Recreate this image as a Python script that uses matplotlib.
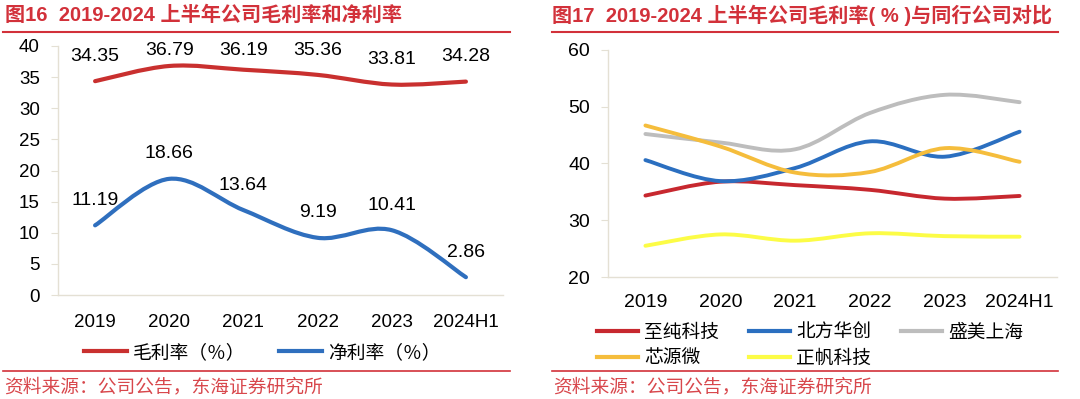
import matplotlib
matplotlib.use("Agg")
import matplotlib.pyplot as plt
from matplotlib.path import Path
from matplotlib.patches import PathPatch
from matplotlib.lines import Line2D

plt.rcParams['font.family'] = ['Liberation Sans', 'Noto Sans CJK SC']

# ---- data ----
years = ['2019', '2020', '2021', '2022', '2023', '2024H1']

gross_margin = [34.35, 36.79, 36.19, 35.36, 33.81, 34.28]
net_margin = [11.19, 18.66, 13.64, 9.19, 10.41, 2.86]

peer_names = ['至纯科技', '北方华创', '盛美上海', '芯源微', '正帆科技']
zhichun = [34.35, 36.79, 36.19, 35.36, 33.81, 34.28]
naura = [40.6, 36.9, 39.2, 43.9, 41.2, 45.6]
acm = [45.2, 43.7, 42.5, 48.9, 52.1, 50.8]
kingsemi = [46.7, 43.0, 38.4, 38.5, 42.7, 40.3]
gentherm = [25.5, 27.5, 26.4, 27.7, 27.2, 27.1]

TITLE_RED = '#d2313a'
SRC_RED = '#d8474c'
SPINE = '#e4e0d4'


def smooth_path(xs, ys):
    # excel-like smoothed line (catmull-rom as cubic bezier)
    n = len(xs)
    verts = [(xs[0], ys[0])]
    codes = [Path.MOVETO]
    for i in range(n - 1):
        x0, y0 = (xs[i - 1], ys[i - 1]) if i > 0 else (xs[i], ys[i])
        x3, y3 = (xs[i + 2], ys[i + 2]) if i + 2 < n else (xs[i + 1], ys[i + 1])
        c1 = (xs[i] + (xs[i + 1] - x0) / 6, ys[i] + (ys[i + 1] - y0) / 6)
        c2 = (xs[i + 1] - (x3 - xs[i]) / 6, ys[i + 1] - (y3 - ys[i]) / 6)
        verts += [c1, c2, (xs[i + 1], ys[i + 1])]
        codes += [Path.CURVE4] * 3
    return Path(verts, codes)


def draw_smooth(ax, ys, color, lw=3.0):
    xs = list(range(len(ys)))
    ax.add_patch(PathPatch(smooth_path(xs, ys), fill=False, edgecolor=color,
                           lw=lw, capstyle='round', joinstyle='round'))


def style_axes(ax, fs, xpad):
    for s in ['top', 'right']:
        ax.spines[s].set_visible(False)
    for s in ['left', 'bottom']:
        ax.spines[s].set_color(SPINE)
        ax.spines[s].set_linewidth(1.0)
    ax.tick_params(axis='y', length=5, color=SPINE, labelsize=fs, pad=8)
    ax.tick_params(axis='x', length=0, labelsize=fs, pad=xpad)
    ax.set_xticks(range(len(years)))
    ax.set_xticklabels(years)
    ax.set_xlim(-0.5, len(years) - 0.5)


fig = plt.figure(figsize=(10.8, 3.99), dpi=100)

# ---- left chart ----
ax1 = fig.add_axes([58 / 1080, 1 - 295 / 399, 445 / 1080, 249 / 399])
ax1.set_ylim(0, 40)
ax1.set_yticks(range(0, 41, 5))
style_axes(ax1, 13.5, 14)
draw_smooth(ax1, gross_margin, '#c9302f')
draw_smooth(ax1, net_margin, '#2f6fbe')
for i, v in enumerate(gross_margin):
    ax1.text(i, min(v + 4.0, 39.2), f'{v:.2f}', ha='center', va='center', fontsize=14)
for i, v in enumerate(net_margin):
    ax1.text(i, v + 4.0, f'{v:.2f}', ha='center', va='center', fontsize=14)

fig.legend([Line2D([], [], color='#c9302f', lw=3), Line2D([], [], color='#2f6fbe', lw=3)],
           ['毛利率（％）', '净利率（％）'], ncol=2, loc='center',
           bbox_to_anchor=(262 / 1080, 1 - 353 / 399), frameon=False, fontsize=13.5,
           handlelength=2.3, handletextpad=0.3, columnspacing=1.8)

# ---- right chart ----
ax2 = fig.add_axes([608 / 1080, 1 - 277 / 399, 449 / 1080, 227 / 399])
ax2.set_ylim(20, 60)
ax2.set_yticks(range(20, 61, 10))
style_axes(ax2, 14, 12)
peer_series = [zhichun, naura, acm, kingsemi, gentherm]
peer_colors = ['#c7282f', '#2b6fc0', '#bdbdbd', '#f5bd3c', '#fcfc46']
for ys, c in zip(peer_series, peer_colors):
    draw_smooth(ax2, ys, c, lw=2.8)

order = [0, 3, 1, 4, 2]
fig.legend([Line2D([], [], color=peer_colors[k], lw=3) for k in order],
           [peer_names[k] for k in order], ncol=3, loc='center',
           bbox_to_anchor=(810 / 1080, 1 - 346 / 399), frameon=False, fontsize=13.5,
           handlelength=2.2, handletextpad=0.3, columnspacing=1.6,
           labelspacing=0.45)

# ---- titles, rules and sources ----
fig.text(5 / 1080, 1 - 15 / 399, '图16  2019-2024 上半年公司毛利率和净利率',
         color=TITLE_RED, fontsize=14.5, fontweight='bold', va='center', ha='left')
fig.text(552 / 1080, 1 - 15 / 399, '图17  2019-2024 上半年公司毛利率( % )与同行公司对比',
         color=TITLE_RED, fontsize=14.5, fontweight='bold', va='center', ha='left')
for x0, x1 in [(3, 510), (552, 1058)]:
    fig.add_artist(Line2D([x0 / 1080, x1 / 1080], [1 - 32 / 399] * 2, color=TITLE_RED, lw=1.5))
    fig.add_artist(Line2D([x0 / 1080, x1 / 1080], [1 - 371 / 399] * 2, color=TITLE_RED, lw=1.2))
fig.text(4 / 1080, 1 - 387 / 399, '资料来源：公司公告，东海证券研究所',
         color=SRC_RED, fontsize=13.5, va='center', ha='left')
fig.text(553 / 1080, 1 - 387 / 399, '资料来源：公司公告，东海证券研究所',
         color=SRC_RED, fontsize=13.5, va='center', ha='left')

fig.savefig('out.png', dpi=100)
